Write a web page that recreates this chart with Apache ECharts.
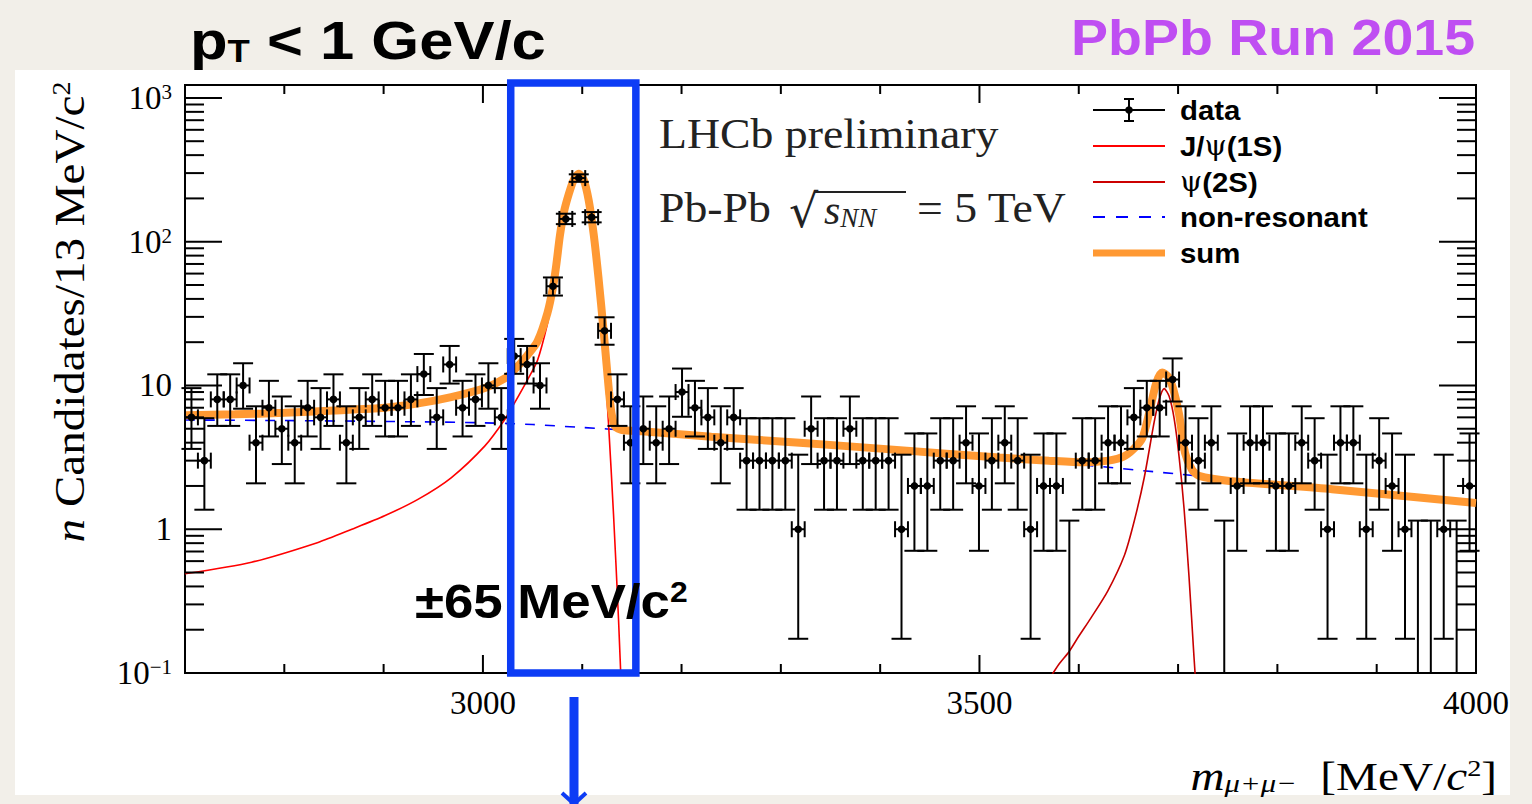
<!DOCTYPE html>
<html>
<head>
<meta charset="utf-8">
<script src="https://cdn.jsdelivr.net/npm/echarts@6/dist/echarts.min.js"></script>
<style>
  html, body { margin: 0; padding: 0; background: #f2efe9; }
  #chart { width: 1532px; height: 804px; }
</style>
</head>
<body>
<div id="chart"></div>
<script>
// m(mu+mu-) spectrum, 100 bins of 13 MeV between 2700 and 4000
const binLow = 2700;
const binWidth = 13;
const counts = [
  6, 3, 8, 8, 10, 4, 7, 5, 4, 7,
  6, 8, 4, 6, 8, 7, 7, 8, 12, 6,
  14, 7, 8, 10, 6, 16, 14, 10, 49, 144,
  277, 148, 24, 8, 4, 5, 4, 5, 9, 7,
  6, 4, 6, 3, 3, 3, 3, 1, 5, 3,
  3, 5, 3, 3, 3, 1, 2, 2, 3, 3,
  4, 2, 3, 4, 3, 1, 2, 2, 0, 3,
  3, 4, 4, 6, 7, 7, 11, 4, 3, 4,
  0, 2, 4, 4, 2, 2, 4, 3, 1, 4,
  4, 1, 3, 2, 1, 0, 0, 1, 0, 2
];

// 68% Poisson intervals used for the error bars
const poissonN  = [0, 1, 2, 3, 4, 5, 6, 7, 8, 9, 10, 11, 12, 14, 16, 24, 49, 144, 148, 277];
const poissonLo = [0, 0.173, 0.708, 1.367, 2.086, 2.840, 3.620, 4.419, 5.232, 6.057, 6.891, 7.734, 8.585, 10.31, 12.05, 19.2, 42.2, 132.5, 136.3, 260.8];
const poissonHi = [1.148, 3.300, 4.638, 5.918, 7.163, 8.382, 9.584, 10.77, 11.95, 13.11, 14.27, 15.42, 16.56, 18.83, 21.08, 29.8, 56.4, 156.5, 160.7, 294.2];

// fit components
const jpsiMass = [2700, 2767, 2834, 2868, 2901, 2935, 2968, 3002, 3022, 3032, 3045, 3055, 3065, 3070.5, 3074, 3077.5, 3081.5, 3086.5, 3091.5, 3096.5, 3101.5, 3106.5, 3111.5, 3116.5, 3121.5, 3126.5, 3131.5, 3136.5, 3140];
const jpsiVal  = [0.49, 0.59, 0.81, 1.0, 1.24, 1.62, 2.28, 3.8, 5.8, 7.6, 11, 15, 27, 43, 65, 105, 155, 210, 265, 292, 264, 189, 108, 50, 18.5, 5.4, 1.27, 0.24, 0.06];

const psi2sMass = [3570, 3580, 3590, 3600, 3612, 3629, 3646, 3656, 3666, 3676, 3681, 3686, 3691, 3696, 3701, 3706, 3711, 3716, 3720];
const psi2sVal  = [0.09, 0.115, 0.14, 0.18, 0.24, 0.37, 0.66, 1.15, 2.3, 5.6, 8.0, 9.5, 8.4, 5.9, 3.2, 1.4, 0.47, 0.13, 0.05];

const bkgMass = [2700, 2800, 2900, 3000, 3050, 3100, 3150, 3250, 3344, 3450, 3520, 3600, 3700, 3800, 3900, 4000];
const bkgVal  = [5.75, 5.7, 5.62, 5.5, 5.35, 5.1, 4.87, 4.4, 3.89, 3.45, 3.15, 2.82, 2.42, 2.08, 1.79, 1.52];

const sumMass = [2700, 2750, 2800, 2850, 2901, 2935, 2968, 3002, 3022, 3032, 3045, 3055, 3065, 3070.5, 3074, 3077.5, 3081.5, 3086.5, 3091.5, 3096.5, 3101.5, 3106.5, 3111.5, 3116.5, 3121.5, 3124.5, 3127, 3129.5, 3133, 3140, 3160, 3230, 3319, 3420, 3520, 3570, 3605, 3630, 3645, 3655, 3664, 3671, 3678, 3684, 3690, 3695, 3701, 3707, 3714, 3721, 3754, 3855, 4000];
const sumVal  = [6.2, 6.3, 6.45, 6.7, 7.0, 7.5, 8.3, 9.6, 11.2, 12.9, 16.3, 20.3, 32, 48, 70, 110, 160, 215, 270, 297, 269, 194, 113, 55, 24, 14, 9, 6.4, 5.2, 4.9, 4.8, 4.4, 4.0, 3.55, 3.15, 3.0, 2.92, 3.0, 3.2, 3.6, 4.3, 6.5, 10.4, 12.3, 11.5, 9.5, 6.3, 3.4, 2.6, 2.35, 2.16, 1.9, 1.52];

// axes
const xMin = 2700, xMax = 4000;
const yMin = 0.1, yMax = 1230;
const xMajorTicks = [3000, 3500, 4000];
const xMinorTicks = [2800, 2900, 3100, 3200, 3300, 3400, 3600, 3700, 3800, 3900];
const xTickLabels = ['3000', '3500', '4000'];
const yMajorTicks = [0.1, 1, 10, 100, 1000];
const yMinorTicks = [0.2, 0.3, 0.4, 0.5, 0.6, 0.7, 0.8, 0.9, 2, 3, 4, 5, 6, 7, 8, 9, 20, 30, 40, 50, 60, 70, 80, 90, 200, 300, 400, 500, 600, 700, 800, 900];

// +-65 MeV window around the J/psi
const jpsiWindow = [3028, 3154];

const BLUE = '#0d3cf5';
const SERIF = 'Liberation Serif';
const SANS = 'Liberation Sans';

function interval(n) {
  const k = poissonN.indexOf(n);
  return [poissonLo[k], poissonHi[k]];
}

const points = counts.map((n, i) => {
  const m = binLow + binWidth * (i + 0.5);
  const [lo, hi] = interval(n);
  return [m, n, lo, hi];
});

function pairs(xs, ys) { return xs.map((x, i) => [x, ys[i]]); }

function renderPoint(params, api) {
  const m = api.value(0), n = api.value(1), lo = api.value(2), hi = api.value(3);
  const st = { stroke: '#000', lineWidth: 2 };
  const top = api.coord([m, hi]);
  const bot = api.coord([m, Math.max(lo, yMin)]);
  const kids = [
    { type: 'line', shape: { x1: top[0], y1: top[1], x2: bot[0], y2: bot[1] }, style: st },
    { type: 'line', shape: { x1: top[0] - 10, y1: top[1], x2: top[0] + 10, y2: top[1] }, style: st }
  ];
  if (lo > yMin) {
    kids.push({ type: 'line', shape: { x1: bot[0] - 10, y1: bot[1], x2: bot[0] + 10, y2: bot[1] }, style: st });
  }
  if (n > 0) {
    const c = api.coord([m, n]);
    const l = api.coord([m - binWidth / 2, n]);
    const r = api.coord([m + binWidth / 2, n]);
    kids.push({ type: 'line', shape: { x1: l[0], y1: c[1], x2: r[0], y2: c[1] }, style: st });
    kids.push({ type: 'line', shape: { x1: l[0], y1: c[1] - 8, x2: l[0], y2: c[1] + 8 }, style: st });
    kids.push({ type: 'line', shape: { x1: r[0], y1: c[1] - 8, x2: r[0], y2: c[1] + 8 }, style: st });
    kids.push({ type: 'circle', shape: { cx: c[0], cy: c[1], r: 3.8 }, style: { fill: '#000' } });
  }
  return { type: 'group', children: kids };
}

function renderXTick(params, api) {
  const v = api.value(0), len = api.value(2);
  const b = api.coord([v, yMin]), t = api.coord([v, yMax]);
  const st = { stroke: '#000', lineWidth: 2 };
  return { type: 'group', children: [
    { type: 'line', shape: { x1: b[0], y1: b[1], x2: b[0], y2: b[1] - len }, style: st },
    { type: 'line', shape: { x1: t[0], y1: t[1], x2: t[0], y2: t[1] + len }, style: st }
  ] };
}

function renderYTick(params, api) {
  const v = api.value(1), len = api.value(2);
  const l = api.coord([xMin, v]), r = api.coord([xMax, v]);
  const st = { stroke: '#000', lineWidth: 2 };
  return { type: 'group', children: [
    { type: 'line', shape: { x1: l[0], y1: l[1], x2: l[0] + len, y2: l[1] }, style: st },
    { type: 'line', shape: { x1: r[0], y1: r[1], x2: r[0] - len, y2: r[1] }, style: st }
  ] };
}

function renderWindow(params, api) {
  const a = api.coord([api.value(0), yMax]);
  const b = api.coord([api.value(1), yMin]);
  return { type: 'rect', shape: { x: a[0], y: a[1] - 2, width: b[0] - a[0], height: b[1] - a[1] + 2 },
           style: { fill: 'none', stroke: BLUE, lineWidth: 7.5 } };
}

function fmtLog(v) {
  const lg = Math.log10(v);
  const e = Math.round(lg);
  if (Math.abs(lg - e) > 1e-6) return '';
  if (e === 0) return '{b|1}';
  if (e === 1) return '{b|10}';
  return '{b|10}{s|' + (e < 0 ? '\u2212' + (-e) : e) + '}';
}

const chart = echarts.init(document.getElementById('chart'), null, { renderer: 'svg' });

const legendY = [110, 146, 182, 217, 253];
const legendFont = { fontFamily: SANS, fontWeight: 'bold', fontSize: 28, fill: '#000', textVerticalAlign: 'middle' };
const psiRich = { g: { fontFamily: 'DejaVu Serif', fontWeight: 'normal', fontSize: 27, fill: '#000' } };

const option = {
  backgroundColor: '#f2efe9',
  animation: false,
  grid: { left: 185, top: 85, width: 1291, height: 588, show: true, borderColor: '#000', borderWidth: 2, backgroundColor: '#fff' },
  xAxis: {
    type: 'value', min: xMin, max: xMax, interval: 100,
    axisLine: { show: false }, axisTick: { show: false }, splitLine: { show: false },
    axisLabel: {
      formatter: v => (xTickLabels.indexOf(String(v)) >= 0 ? String(v) : ''),
      fontFamily: SERIF, fontSize: 33, color: '#000', margin: 13
    }
  },
  yAxis: {
    type: 'log', logBase: 10, min: yMin, max: yMax,
    axisLine: { show: false }, axisTick: { show: false }, splitLine: { show: false },
    axisLabel: {
      formatter: fmtLog, margin: 13,
      rich: {
        b: { fontFamily: SERIF, fontSize: 33, color: '#000' },
        s: { fontFamily: SERIF, fontSize: 21, color: '#000', verticalAlign: 'top' }
      }
    }
  },
  graphic: [
    { type: 'rect', z: -10, shape: { x: 15, y: 70, width: 1495, height: 725 }, style: { fill: '#ffffff' } },
    { type: 'text', z: 10, x: 190, y: 40, scaleX: 1.14, style: {
        text: 'p{sub|T} < 1 GeV/c', textVerticalAlign: 'middle',
        fontFamily: SANS, fontWeight: 'bold', fontSize: 54, fill: '#000',
        rich: { sub: { fontFamily: SANS, fontWeight: 'bold', fontSize: 32, verticalAlign: 'bottom' } } } },
    { type: 'text', z: 10, x: 1475, y: 37, scaleX: 1.11, style: {
        text: 'PbPb Run 2015', textAlign: 'right', textVerticalAlign: 'middle',
        fontFamily: SANS, fontWeight: 'bold', fontSize: 50, fill: '#bf4ef2' } },
    { type: 'text', z: 10, x: 659, y: 134, scaleX: 1.09, style: {
        text: 'LHCb preliminary', textVerticalAlign: 'middle',
        fontFamily: SERIF, fontSize: 42, fill: '#222' } },
    // Pb-Pb sqrt(s_NN) = 5 TeV
    { type: 'text', z: 10, x: 659, y: 208, scaleX: 1.09, style: {
        text: 'Pb-Pb', textVerticalAlign: 'middle', fontFamily: SERIF, fontSize: 42, fill: '#222' } },
    { type: 'text', z: 10, x: 789, y: 211, style: {
        text: '\u221A', textVerticalAlign: 'middle', fontFamily: 'DejaVu Serif', fontSize: 46, fill: '#222' } },
    { type: 'line', z: 10, shape: { x1: 815, y1: 192, x2: 906, y2: 192 }, style: { stroke: '#222', lineWidth: 2 } },
    { type: 'text', z: 10, x: 824, y: 210, style: {
        text: '{i|s}{sb|NN}', textVerticalAlign: 'middle',
        rich: {
          i: { fontFamily: SERIF, fontStyle: 'italic', fontSize: 42, fill: '#222' },
          sb: { fontFamily: SERIF, fontStyle: 'italic', fontSize: 27, fill: '#222', verticalAlign: 'bottom' }
        } } },
    { type: 'text', z: 10, x: 917, y: 208, scaleX: 1.09, style: {
        text: '= 5 TeV', textVerticalAlign: 'middle', fontFamily: SERIF, fontSize: 42, fill: '#222' } },
    { type: 'text', z: 10, x: 415, y: 601, scaleX: 1.1, style: {
        text: '{t|\u00B165 MeV/c}{s|2}', textVerticalAlign: 'middle',
        rich: {
          t: { fontFamily: SANS, fontWeight: 'bold', fontSize: 48, fill: '#000' },
          s: { fontFamily: SANS, fontWeight: 'bold', fontSize: 29, fill: '#000', verticalAlign: 'top' }
        } } },
    { type: 'text', z: 10, x: 70, y: 312, rotation: Math.PI / 2, scaleX: 1.12, style: {
        text: '{i|n}{t| Candidates/13 MeV/c}{s|2}', textAlign: 'center', textVerticalAlign: 'middle',
        rich: {
          i: { fontFamily: SERIF, fontStyle: 'italic', fontSize: 42, fill: '#000' },
          t: { fontFamily: SERIF, fontSize: 42, fill: '#000' },
          s: { fontFamily: SERIF, fontSize: 25, fill: '#000', verticalAlign: 'top' }
        } } },
    { type: 'text', z: 10, x: 1497, y: 776, scaleX: 1.18, style: {
        text: '{i|m}{sb|\u03BC+\u03BC\u2212}{t|  [MeV/}{i|c}{s|2}{t|]}', textAlign: 'right', textVerticalAlign: 'middle',
        rich: {
          i: { fontFamily: SERIF, fontStyle: 'italic', fontSize: 40, fill: '#000' },
          t: { fontFamily: SERIF, fontSize: 40, fill: '#000' },
          sb: { fontFamily: SERIF, fontStyle: 'italic', fontSize: 26, fill: '#000', verticalAlign: 'bottom' },
          s: { fontFamily: SERIF, fontSize: 24, fill: '#000', verticalAlign: 'top' }
        } } },
    // legend
    { type: 'line', z: 10, shape: { x1: 1093, y1: legendY[0], x2: 1165, y2: legendY[0] }, style: { stroke: '#000', lineWidth: 2 } },
    { type: 'line', z: 10, shape: { x1: 1129, y1: legendY[0] - 11, x2: 1129, y2: legendY[0] + 11 }, style: { stroke: '#000', lineWidth: 2 } },
    { type: 'line', z: 10, shape: { x1: 1124, y1: legendY[0] - 11, x2: 1134, y2: legendY[0] - 11 }, style: { stroke: '#000', lineWidth: 2 } },
    { type: 'line', z: 10, shape: { x1: 1124, y1: legendY[0] + 11, x2: 1134, y2: legendY[0] + 11 }, style: { stroke: '#000', lineWidth: 2 } },
    { type: 'circle', z: 10, shape: { cx: 1129, cy: legendY[0], r: 3.8 }, style: { fill: '#000' } },
    { type: 'line', z: 10, shape: { x1: 1093, y1: legendY[1], x2: 1165, y2: legendY[1] }, style: { stroke: '#ff0000', lineWidth: 2 } },
    { type: 'line', z: 10, shape: { x1: 1093, y1: legendY[2], x2: 1165, y2: legendY[2] }, style: { stroke: '#cc0000', lineWidth: 2 } },
    { type: 'line', z: 10, shape: { x1: 1093, y1: legendY[3], x2: 1165, y2: legendY[3] }, style: { stroke: '#0000ff', lineWidth: 2, lineDash: [12, 11] } },
    { type: 'line', z: 10, shape: { x1: 1093, y1: legendY[4], x2: 1165, y2: legendY[4] }, style: { stroke: '#ff9933', lineWidth: 7 } },
    { type: 'text', z: 10, x: 1180, y: legendY[0], scaleX: 1.05, style: Object.assign({ text: 'data' }, legendFont) },
    { type: 'text', z: 10, x: 1180, y: legendY[1], scaleX: 1.05, style: Object.assign({ text: 'J/{g|\u03C8}(1S)', rich: psiRich }, legendFont) },
    { type: 'text', z: 10, x: 1180, y: legendY[2], scaleX: 1.05, style: Object.assign({ text: '{g|\u03C8}(2S)', rich: psiRich }, legendFont) },
    { type: 'text', z: 10, x: 1180, y: legendY[3], scaleX: 1.05, style: Object.assign({ text: 'non-resonant' }, legendFont) },
    { type: 'text', z: 10, x: 1180, y: legendY[4], scaleX: 1.05, style: Object.assign({ text: 'sum' }, legendFont) },
    // arrow below the window
    { type: 'line', z: 10, shape: { x1: 574, y1: 697, x2: 574, y2: 804 }, style: { stroke: BLUE, lineWidth: 9 } },
    { type: 'polyline', z: 10, shape: { points: [[562, 793], [574, 804], [586, 793]] }, style: { stroke: BLUE, lineWidth: 4 } }
  ],
  series: [
    { name: 'non-resonant', type: 'line', z: 3, data: pairs(bkgMass, bkgVal), showSymbol: false, smooth: 0.3,
      lineStyle: { color: '#0000ff', width: 1.6, type: [10, 10] } },
    { name: 'J/psi(1S)', type: 'line', z: 3, data: pairs(jpsiMass, jpsiVal), showSymbol: false, smooth: 0.25,
      lineStyle: { color: '#ff0000', width: 1.6 } },
    { name: 'psi(2S)', type: 'line', z: 3, data: pairs(psi2sMass, psi2sVal), showSymbol: false, smooth: 0.25,
      lineStyle: { color: '#c80000', width: 1.6 } },
    { name: 'sum', type: 'line', z: 4, data: pairs(sumMass, sumVal), showSymbol: false, smooth: 0.25,
      lineStyle: { color: '#ff9933', width: 8 } },
    { name: 'data', type: 'custom', z: 5, renderItem: renderPoint, encode: { x: 0, y: 3 }, data: points },
    { name: 'xticks', type: 'custom', z: 6, silent: true, renderItem: renderXTick, encode: { x: 0, y: 1 },
      data: xMajorTicks.map(v => [v, 1, 18]).concat(xMinorTicks.map(v => [v, 1, 9])) },
    { name: 'yticks', type: 'custom', z: 6, silent: true, renderItem: renderYTick, encode: { x: 0, y: 1 },
      data: yMajorTicks.map(v => [xMin, v, 37]).concat(yMinorTicks.map(v => [xMin, v, 19])) },
    { name: 'window', type: 'custom', z: 7, silent: true, renderItem: renderWindow, encode: { x: 0, y: 2 },
      data: [[jpsiWindow[0], jpsiWindow[1], 1]] }
  ]
};

chart.setOption(option);
</script>
</body>
</html>
